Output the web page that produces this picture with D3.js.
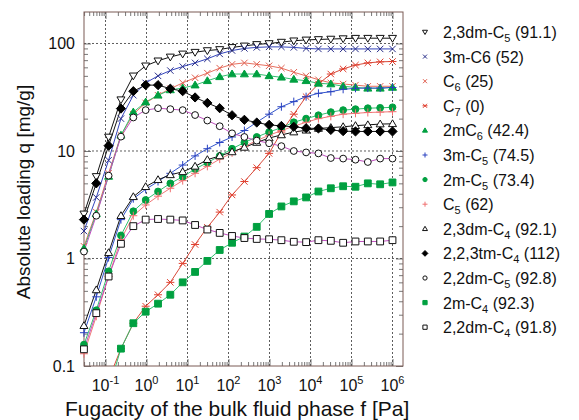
<!DOCTYPE html>
<html><head><meta charset="utf-8">
<script src="https://cdn.jsdelivr.net/npm/d3@7"></script>
<style>body{margin:0;background:#fff;} text{font-family:"Liberation Sans",Arial,sans-serif;fill:#111;}</style>
</head><body><svg id="c" width="579" height="420"></svg>
<script>
// ---------- data ----------
const fugacity = [0.0298, 0.0596, 0.119, 0.238, 0.477, 0.954, 1.91, 3.81, 7.63, 15.3, 30.5, 61.0, 122, 244, 488, 977, 1950, 3910, 7810, 15600, 31300, 62500, 125000, 250000, 500000, 1000000];
const dm23C5  = [2.6, 5.8, 13.5, 30, 50, 62, 69, 75, 80, 83, 86, 88, 92, 95, 98, 100, 103, 106, 108, 109, 110, 111, 112, 112, 112, 112];
const m3C6    = [1.8, 3.7, 8.2, 20, 33, 43, 50, 56, 61, 66, 72, 80, 86, 90, 92, 93, 93, 92, 90, 89, 89, 89, 89, 89, 89, 89];
const C6      = [1.3, 2.7, 6.2, 14, 22, 28, 33, 38, 43, 48, 53, 59, 64, 66, 64, 62, 59, 54, 50, 46, 43, 42, 41, 40, 40, 40];
const C7      = [0.02, 0.04, 0.075, 0.145, 0.25, 0.36, 0.46, 0.6, 0.9, 1.35, 1.95, 2.7, 3.9, 5.2, 7.0, 9.5, 15, 22, 32, 42, 52, 58, 63, 66, 67.5, 68];
const m2C6    = [1.24, 2.6, 5.8, 14, 23, 28.5, 33, 37, 38.5, 41, 45, 49, 52, 52, 52, 50, 48.5, 46.4, 45, 42.6, 42, 40, 39, 38.3, 38.3, 39];
const m3C5    = [0.204, 0.44, 1.02, 2.3, 3.6, 4.4, 5.2, 6.2, 7.4, 9.0, 10.5, 12, 13.5, 15.5, 18.5, 22, 25.8, 28.8, 32, 34.4, 35.6, 37.5, 38.3, 38.5, 38.5, 39];
const m2C5    = [0.158, 0.33, 0.76, 1.64, 2.75, 3.5, 4.2, 5.0, 5.75, 6.8, 7.8, 9.0, 10.5, 12, 13.5, 15, 16.5, 18.5, 20, 21.5, 23, 24, 24.5, 25, 25.2, 25.5];
const C5      = [0.13, 0.29, 0.68, 1.5, 2.5, 3.15, 3.8, 4.5, 5.3, 6.2, 7.2, 8.4, 9.6, 11, 12.5, 14, 15.5, 17, 18.5, 20, 21, 22, 22.4, 22.8, 23, 23.2];
const dm23C4  = [0.237, 0.51, 1.13, 2.5, 3.75, 4.65, 5.4, 6.0, 6.4, 7.2, 8.3, 9.0, 9.8, 10.8, 12, 13.2, 14.1, 15, 15.6, 16.2, 16.5, 16.8, 17.2, 17.5, 17.8, 17.9];
const tm223C4 = [2.3, 5.0, 11.2, 24.8, 36, 41, 41, 38, 36, 31.5, 28, 25, 21.5, 19.5, 18.4, 17.5, 17.1, 16.8, 16.3, 16.2, 15.7, 15.3, 15.2, 15.2, 15.2, 15.2];
const dm22C5  = [1.16, 2.5, 5.9, 13.6, 20.5, 24, 25, 24.5, 24, 21.6, 19.2, 17, 14.6, 13.5, 12.5, 11.8, 11.1, 10, 9.7, 9.5, 8.6, 8.5, 8.3, 7.9, 8.5, 8.5];
const m2C4    = [0.018, 0.035, 0.061, 0.145, 0.25, 0.32, 0.38, 0.46, 0.6, 0.75, 0.95, 1.2, 1.4, 1.6, 1.97, 2.6, 3.05, 3.4, 3.7, 4.2, 4.5, 4.7, 4.65, 5.0, 4.9, 5.1];
const dm22C4  = [0.143, 0.31, 0.68, 1.37, 2.0, 2.3, 2.33, 2.3, 2.26, 2.05, 1.86, 1.73, 1.62, 1.55, 1.52, 1.51, 1.48, 1.43, 1.42, 1.48, 1.46, 1.40, 1.44, 1.44, 1.44, 1.48];
const seriesLabels = ["2,3dm-C_5 (91.1)", "3m-C6 (52)", "C_6 (25)", "C_7 (0)", "2mC_6 (42.4)", "3m-C_5 (74.5)", "2m-C_5 (73.4)", "C_5 (62)", "2,3dm-C_4 (92.1)", "2,2,3tm-C_4 (112)", "2,2dm-C_5 (92.8)", "2m-C_4 (92.3)", "2,2dm-C_4 (91.8)"];
const seriesValues = [dm23C5, m3C6, C6, C7, m2C6, m3C5, m2C5, C5, dm23C4, tm223C4, dm22C5, m2C4, dm22C4];
const xTickExponents = [-1, 0, 1, 2, 3, 4, 5, 6];
const yTickValues = [0.1, 1, 10, 100];
const yTickLabels = ["0.1", "1", "10", "100"];

// ---------- styles ----------
const styles = [
  {line:"#111", mk:"tridown", stroke:"#111", fill:"#fff"},
  {line:"#3344bb", mk:"x", stroke:"#2a2f8a", fill:"none"},
  {line:"#e87060", mk:"x", stroke:"#e06050", fill:"none"},
  {line:"#d84a3a", mk:"star", stroke:"#e04030", fill:"none"},
  {line:"#33c070", mk:"triup", stroke:"#00a040", fill:"#00a040"},
  {line:"#3355cc", mk:"plus", stroke:"#2840c0", fill:"none"},
  {line:"#33c070", mk:"circle", stroke:"#00a040", fill:"#00a040"},
  {line:"#f07878", mk:"plus", stroke:"#f07070", fill:"none"},
  {line:"#111", mk:"triup", stroke:"#111", fill:"#fff"},
  {line:"#111", mk:"diamond", stroke:"#000", fill:"#000"},
  {line:"#c050c0", mk:"circle", stroke:"#111", fill:"#fff"},
  {line:"#33c070", mk:"square", stroke:"#00a040", fill:"#00a040"},
  {line:"#c050c0", mk:"square", stroke:"#111", fill:"#fff"}
];

const svg = d3.select('#c');
const L=84, R=403, T=12, B=366;
const x = d3.scaleLog().domain([0.02988, 1.803e6]).range([L, R]);
const y = d3.scaleLog().domain([0.1, 196.3]).range([B, T]);

svg.append('defs').append('clipPath').attr('id','clip')
  .append('rect').attr('x',L).attr('y',T).attr('width',R-L).attr('height',B-T);

// grid
const g = svg.append('g');
xTickExponents.forEach(e => {
  const xv = x(Math.pow(10,e));
  g.append('line').attr('x1',xv).attr('x2',xv).attr('y1',T).attr('y2',B)
    .attr('stroke','#333').attr('stroke-width',0.8).attr('stroke-dasharray','2,2');
});
[1,10,100].forEach(v => {
  g.append('line').attr('x1',L).attr('x2',R).attr('y1',y(v)).attr('y2',y(v))
    .attr('stroke','#333').attr('stroke-width',0.8).attr('stroke-dasharray','2,2');
});

// minor/major ticks via axes
const xMinor = [], yMinor = [];
for (let d=-2; d<=6; d++) for (let k=2;k<=9;k++){ const v=k*Math.pow(10,d); if (v>x.domain()[0] && v<x.domain()[1]) xMinor.push(v); }
for (let d=-1; d<=2; d++) for (let k=2;k<=9;k++){ const v=k*Math.pow(10,d); if (v>y.domain()[0] && v<y.domain()[1]) yMinor.push(v); }
const xMaj = xTickExponents.map(e=>Math.pow(10,e));
function addAxis(axis, tx, ty){
  const a = svg.append('g').attr('transform',`translate(${tx},${ty})`).call(axis);
  a.select('.domain').remove();
  a.selectAll('line').attr('stroke','#555').attr('stroke-width',0.8);
  a.selectAll('text').remove();
}
addAxis(d3.axisBottom(x).tickValues(xMinor).tickSize(-4), 0, B);
addAxis(d3.axisTop(x).tickValues(xMinor).tickSize(-4), 0, T);
addAxis(d3.axisBottom(x).tickValues(xMaj).tickSize(-7), 0, B);
addAxis(d3.axisTop(x).tickValues(xMaj).tickSize(-7), 0, T);
addAxis(d3.axisLeft(y).tickValues(yMinor).tickSize(-4), L, 0);
addAxis(d3.axisRight(y).tickValues(yMinor).tickSize(-4), R, 0);
addAxis(d3.axisLeft(y).tickValues(yTickValues).tickSize(-7), L, 0);
addAxis(d3.axisRight(y).tickValues(yTickValues).tickSize(-7), R, 0);

// frame
svg.append('rect').attr('x',L).attr('y',T).attr('width',R-L).attr('height',B-T)
  .attr('fill','none').attr('stroke','#7a5a55').attr('stroke-width',1);

// marker drawer
function marker(sel, type, s, st){
  const h = s/2;
  let p;
  switch(type){
    case 'tridown': p = `M${-h},${-h*0.7}L${h},${-h*0.7}L0,${h}Z`; break;
    case 'triup': p = `M${-h},${h*0.7}L${h},${h*0.7}L0,${-h}Z`; break;
    case 'diamond': p = `M0,${-h*1.15}L${h*1.15},0L0,${h*1.15}L${-h*1.15},0Z`; break;
    case 'square': p = `M${-h*0.85},${-h*0.85}h${h*1.7}v${h*1.7}h${-h*1.7}Z`; break;
    case 'circle': p = d3.path(); p.arc(0,0,h*0.85,0,2*Math.PI); p = p.toString(); break;
    case 'x': p = `M${-h*0.8},${-h*0.8}L${h*0.8},${h*0.8}M${-h*0.8},${h*0.8}L${h*0.8},${-h*0.8}`; break;
    case 'plus': p = `M${-h},0L${h},0M0,${-h}L0,${h}`; break;
    case 'star': p = `M${-h*0.8},${-h*0.8}L${h*0.8},${h*0.8}M${-h*0.8},${h*0.8}L${h*0.8},${-h*0.8}M${-h},0L${h},0`; break;
  }
  sel.append('path').attr('d',p).attr('fill',st.fill).attr('stroke',st.stroke).attr('stroke-width',1);
}

// series
const plot = svg.append('g');
const lineGen = d3.line().x(d=>x(d[0])).y(d=>y(d[1]));
seriesValues.forEach((vals,i) => {
  const pts = fugacity.map((f,j)=>[f, vals[j]]);
  plot.append('path').attr('d', lineGen(pts)).attr('clip-path','url(#clip)')
    .attr('fill','none').attr('stroke', styles[i].line).attr('stroke-width',1);
});
seriesValues.forEach((vals,i) => {
  fugacity.forEach((f,j) => {
    if (vals[j] < 0.1) return;
    const m = plot.append('g').attr('transform',`translate(${x(f)},${y(vals[j])})`);
    marker(m, styles[i].mk, 8, styles[i]);
  });
});

// tick labels
yTickValues.forEach((v,i)=>{
  svg.append('text').attr('x',75).attr('y',y(v)+6).attr('text-anchor','end')
    .attr('font-size',16).text(yTickLabels[i]);
});
xTickExponents.forEach(e=>{
  const t = svg.append('text').attr('x',x(Math.pow(10,e))).attr('y',391).attr('text-anchor','middle').attr('font-size',16);
  t.append('tspan').text('10');
  t.append('tspan').attr('font-size',11).attr('dy',-7).text(e);
});

// axis titles
svg.append('text').attr('x',65).attr('y',416).attr('text-anchor','start').attr('font-size',21)
  .text('Fugacity of the bulk fluid phase f [Pa]');
svg.append('text').attr('transform','translate(30,192) rotate(-90)').attr('text-anchor','middle').attr('font-size',19)
  .text('Absolute loading q [mg/g]');

// legend
seriesLabels.forEach((lab,i)=>{
  const yy = 32 + i*24.6;
  const m = svg.append('g').attr('transform',`translate(425,${yy})`);
  marker(m, styles[i].mk, 5, styles[i]);
  const t = svg.append('text').attr('x',443).attr('y',yy+6).attr('font-size',16);
  const parts = lab.split('_');
  if (parts.length===1){ t.append('tspan').text(lab); }
  else {
    t.append('tspan').text(parts[0]);
    t.append('tspan').attr('font-size',11).attr('dy',4).text(parts[1][0]);
    t.append('tspan').attr('dy',-4).text(parts[1].slice(1));
  }
});
</script></body></html>
